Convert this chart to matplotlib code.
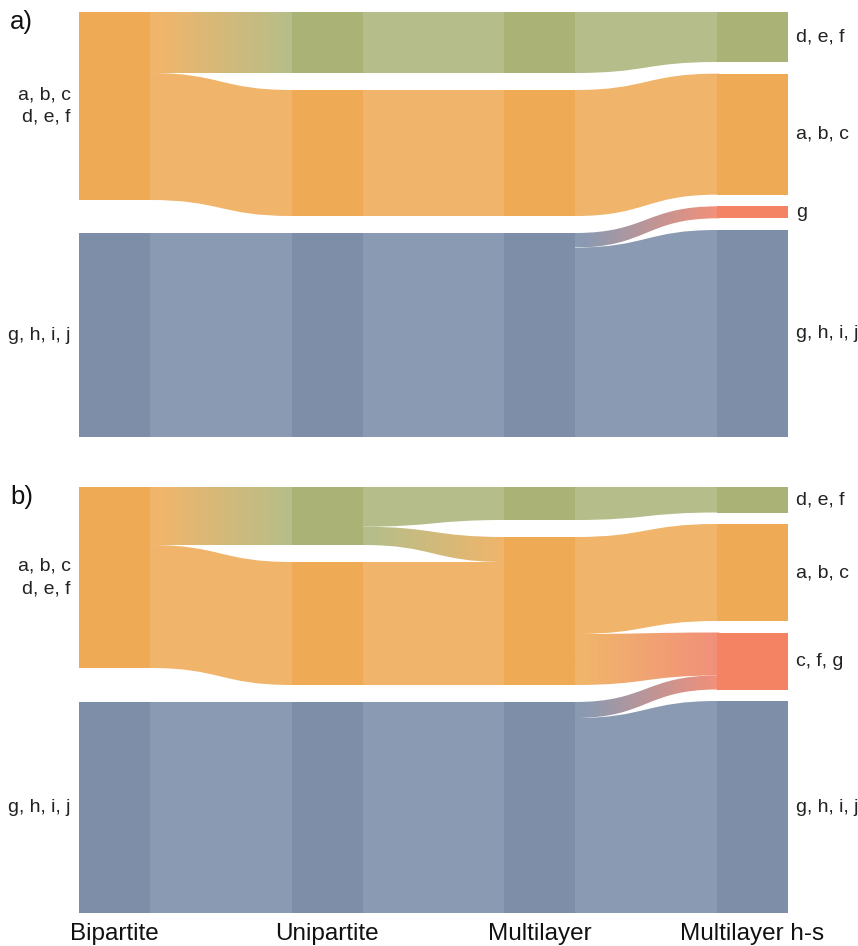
import numpy as np
import matplotlib
matplotlib.use("Agg")
import matplotlib.pyplot as plt
from matplotlib.path import Path
from matplotlib.patches import PathPatch, Rectangle
from matplotlib.colors import to_rgb

plt.rcParams['font.family'] = ['Liberation Sans', 'DejaVu Sans']

# ---------------- data ----------------
columns = ["Bipartite", "Unipartite", "Multilayer", "Multilayer h-s"]

# panel a
a_node_groups = [["O", "B"], ["G", "O", "B"], ["G", "O", "B"], ["G", "O", "R", "B"]]
a_node_sizes = [[188, 204], [61, 126, 204], [61, 126, 204], [50, 121, 12, 207]]
# (column, source node, target node, size at source, size at target)
a_flows = [(0, 0, 0, 61, 61), (0, 0, 1, 127, 126), (0, 1, 2, 204, 204),
           (1, 0, 0, 61, 61), (1, 1, 1, 126, 126), (1, 2, 2, 204, 204),
           (2, 0, 0, 61, 50), (2, 1, 1, 126, 121), (2, 2, 2, 14.5, 12), (2, 2, 3, 189.5, 207)]
a_left_labels = ["a, b, c\nd, e, f", "g, h, i, j"]
a_right_labels = ["d, e, f", "a, b, c", "g", "g, h, i, j"]

# panel b
b_node_groups = [["O", "B"], ["G", "O", "B"], ["G", "O", "B"], ["G", "O", "R", "B"]]
b_node_sizes = [[181, 211], [58, 123, 211], [33, 148, 211], [25.5, 97, 57, 212]]
b_flows = [(0, 0, 0, 58, 58), (0, 0, 1, 123, 123), (0, 1, 2, 211, 211),
           (1, 0, 0, 39.7, 33), (1, 0, 1, 18.3, 25), (1, 1, 1, 123, 123), (1, 2, 2, 211, 211),
           (2, 0, 0, 33, 25.5), (2, 1, 1, 97, 97), (2, 1, 2, 51, 43), (2, 2, 2, 16, 14), (2, 2, 3, 195, 212)]
b_left_labels = ["a, b, c\nd, e, f", "g, h, i, j"]
b_right_labels = ["d, e, f", "a, b, c", "c, f, g", "g, h, i, j"]

node_colors = {"O": "#EEAA54", "G": "#AAB275", "B": "#7E8DA8", "R": "#F48364"}
flow_colors = {"O": "#F0B56B", "G": "#B5BE8A", "B": "#8A9AB2", "R": "#F2907A"}

# ---------------- layout ----------------
W, Hpx = 858, 946
fig = plt.figure(figsize=(W / 100, Hpx / 100), dpi=100)

node_w = 1 / 3.0  # node width in column-spacing units
overlap = 0.01    # flows tuck slightly under nodes to avoid seams


def draw_panel(rect, H, groups, sizes, flows, left_labels, right_labels, bottom_labels=False):
    ax = fig.add_axes(rect)
    ax.set_xlim(0, 3 + node_w)
    ax.set_ylim(H, 0)
    ax.axis("off")
    # node positions
    tops = []
    for col, sz in enumerate(sizes):
        n = len(sz)
        gap = (H - sum(sz)) / (n - 1)
        y = 0
        t = []
        for s in sz:
            t.append(y)
            y += s + gap
        tops.append(t)
    # flow offsets
    src_off = {}
    tgt_off = {}
    order_src = sorted(range(len(flows)), key=lambda i: (flows[i][0], flows[i][1], flows[i][2]))
    for i in order_src:
        c, s, t, ss, ts = flows[i]
        key = (c, s)
        o = src_off.get(key, 0)
        src_off[key] = o + ss
        flows[i] = (c, s, t, ss, ts, tops[c][s] + o)
    order_tgt = sorted(range(len(flows)), key=lambda i: (flows[i][0], flows[i][2], flows[i][1]))
    res = {}
    for i in order_tgt:
        c, s, t, ss, ts, y0 = flows[i]
        key = (c + 1, t)
        o = tgt_off.get(key, 0)
        tgt_off[key] = o + ts
        res[i] = (c, s, t, ss, ts, y0, tops[c + 1][t] + o)
    # draw flows
    for i in range(len(flows)):
        c, s, t, ss, ts, y0, y1 = res[i]
        xa = c + node_w
        xb = c + 1
        x0 = xa - overlap
        x1 = xb + overlap
        xm = (xa + xb) / 2
        verts = [(x0, y0), (xa, y0), (xm, y0), (xm, y1), (xb, y1), (x1, y1),
                 (x1, y1 + ts), (xb, y1 + ts), (xm, y1 + ts), (xm, y0 + ss), (xa, y0 + ss),
                 (x0, y0 + ss), (x0, y0)]
        codes = [Path.MOVETO, Path.LINETO, Path.CURVE4, Path.CURVE4, Path.CURVE4, Path.LINETO,
                 Path.LINETO, Path.LINETO, Path.CURVE4, Path.CURVE4, Path.CURVE4,
                 Path.LINETO, Path.CLOSEPOLY]
        path = Path(verts, codes)
        gs = groups[c][s]
        gt = groups[c + 1][t]
        if gs == gt:
            ax.add_patch(PathPatch(path, facecolor=flow_colors[gs], edgecolor="none", zorder=1))
        else:
            patch = PathPatch(path, facecolor="none", edgecolor="none", zorder=1)
            ax.add_patch(patch)
            c0 = np.array(to_rgb(flow_colors[gs]))
            c1 = np.array(to_rgb(flow_colors[gt]))
            f = np.clip((np.linspace(0, 1, 256) - 0.08) / 0.9, 0, 1)[None, :, None]
            img = c0[None, None, :] * (1 - f) + c1[None, None, :] * f
            img = np.repeat(img, 2, axis=0)
            ylo = min(y0, y1)
            yhi = max(y0 + ss, y1 + ts)
            im = ax.imshow(img, extent=[x0, x1, yhi, ylo], aspect="auto",
                           interpolation="bilinear", zorder=1)
            im.set_clip_path(patch)
    # draw nodes
    for col, sz in enumerate(sizes):
        for k, s in enumerate(sz):
            ax.add_patch(Rectangle((col, tops[col][k]), node_w, s,
                                   facecolor=node_colors[groups[col][k]],
                                   edgecolor="none", zorder=2))
    ax.set_ylim(H, 0)
    ax.set_xlim(0, 3 + node_w)
    # labels
    for k, lab in enumerate(left_labels):
        yc = tops[0][k] + sizes[0][k] / 2
        ax.annotate(lab, xy=(0, yc), xytext=(-8, 0), textcoords="offset pixels",
                    ha="right", va="center", multialignment="right",
                    fontsize=14, color="#222222", linespacing=1.4)
    for k, lab in enumerate(right_labels):
        yc = tops[3][k] + sizes[3][k] / 2
        ax.annotate(lab, xy=(3 + node_w, yc), xytext=(8, 0), textcoords="offset pixels",
                    ha="left", va="center", fontsize=14, color="#222222")
    if bottom_labels:
        for col, lab in enumerate(columns):
            ax.annotate(lab, xy=(col + node_w / 2, H), xytext=(0, -21),
                        textcoords="offset pixels", ha="center", va="center",
                        fontsize=17.5, color="#111111")
    return ax


def rect_px(x0, y0, x1, y1):
    return [x0 / W, 1 - y1 / Hpx, (x1 - x0) / W, (y1 - y0) / Hpx]


draw_panel(rect_px(79, 12, 788, 437), 425, a_node_groups, a_node_sizes, list(a_flows),
           a_left_labels, a_right_labels)
draw_panel(rect_px(79, 487, 788, 913), 426, b_node_groups, b_node_sizes, list(b_flows),
           b_left_labels, b_right_labels, bottom_labels=True)

fig.text(10 / W, 1 - 22 / Hpx, "a)", fontsize=18.5, ha="left", va="center", color="#111111")
fig.text(10 / W, 1 - 497 / Hpx, "b)", fontsize=18.5, ha="left", va="center", color="#111111")

fig.savefig("out.png", dpi=100)
